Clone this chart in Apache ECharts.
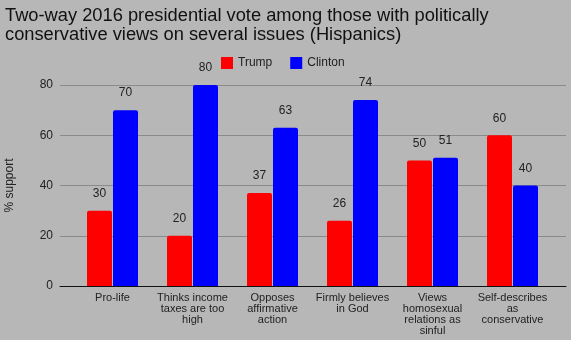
<!DOCTYPE html>
<html><head><meta charset="utf-8">
<script src="https://cdn.jsdelivr.net/npm/echarts@6/dist/echarts.min.js"></script>
<style>html,body{margin:0;padding:0;background:#b7b7b7}#c{width:571px;height:340px}</style>
</head><body><div id="c"></div>
<script>
var categories = ["Pro-life", "Thinks income\ntaxes are too\nhigh", "Opposes\naffirmative\naction", "Firmly believes\nin God", "Views\nhomosexual\nrelations as\nsinful", "Self-describes\nas\nconservative"];
var trump = [30, 20, 37, 26, 50, 60];
var clinton = [70, 80, 63, 74, 51, 40];
var yTicks = [0, 20, 40, 60, 80];
var titleText = "Two-way 2016 presidential vote among those with politically\nconservative views on several issues (Hispanics)";

var chart = echarts.init(document.getElementById('c'), null, {renderer: 'canvas'});
var font = "Liberation Sans, Arial, sans-serif";
var lbl = {show: true, position: 'top', distance: 11, color: '#222', fontSize: 12, fontFamily: font};
chart.setOption({
  backgroundColor: '#b7b7b7',
  animation: false,
  title: {text: titleText, left: 0, top: 1, textStyle: {fontFamily: font, fontSize: 18.3, fontWeight: 'normal', color: '#111', lineHeight: 19.5}},
  legend: {top: 52, left: 216, itemWidth: 12, itemHeight: 12, itemGap: 18, icon: 'rect',
    textStyle: {fontFamily: font, fontSize: 12, color: '#222'}, data: ['Trump', 'Clinton']},
  grid: [
    {left: 60, right: 5, top: 85, bottom: 54, containLabel: false, outerBoundsMode: 'none'},
    {left: 72.5, right: 18.5, top: 85, bottom: 54, containLabel: false, outerBoundsMode: 'none'}
  ],
  xAxis: [
    {gridIndex: 0, type: 'category', data: [''], axisLine: {show: true, lineStyle: {color: '#111', width: 1}}, axisTick: {show: false}, axisLabel: {show: false}},
    {gridIndex: 1, type: 'category', data: categories, axisLine: {show: false}, axisTick: {show: false},
      axisLabel: {interval: 0, margin: 6, color: '#222', fontSize: 11, fontFamily: font, lineHeight: 11}}
  ],
  yAxis: [
    {gridIndex: 0, type: 'value', min: 0, max: 80, interval: 20, name: '% support', nameLocation: 'middle', nameGap: 44,
      nameTextStyle: {fontFamily: font, fontSize: 12, color: '#222'},
      axisLine: {show: false}, axisTick: {show: false},
      axisLabel: {color: '#222', fontSize: 12, fontFamily: font, margin: 7},
      splitLine: {lineStyle: {color: '#8a8a8a', width: 1}}},
    {gridIndex: 1, type: 'value', min: 0, max: 80, interval: 20, show: false}
  ],
  series: [
    {name: 'Trump', type: 'bar', xAxisIndex: 1, yAxisIndex: 1, data: trump, barWidth: 25, barGap: '4%',
      itemStyle: {color: '#ff0000', borderRadius: [2, 2, 0, 0]}, label: lbl},
    {name: 'Clinton', type: 'bar', xAxisIndex: 1, yAxisIndex: 1, data: clinton, barWidth: 25, barGap: '4%',
      itemStyle: {color: '#0000ff', borderRadius: [2, 2, 0, 0]}, label: lbl}
  ]
});
</script></body></html>
